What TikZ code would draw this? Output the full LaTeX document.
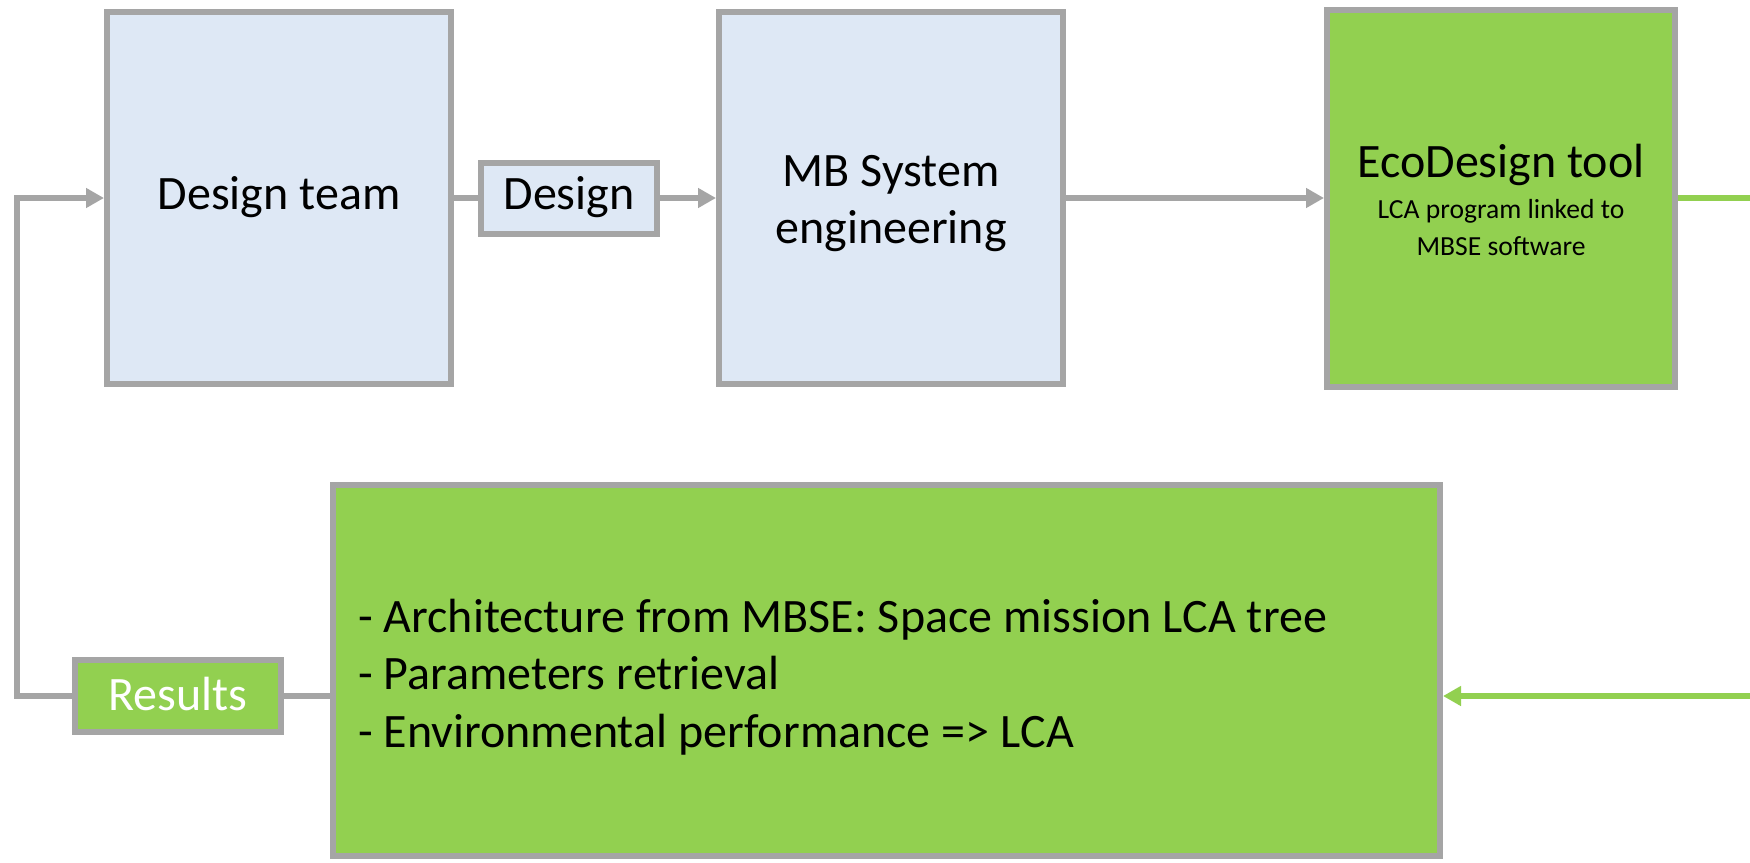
\documentclass[tikz,border=0pt]{standalone}
\usepackage{fontspec}
\setmainfont{Carlito}
\usetikzlibrary{arrows.meta}
\definecolor{boxgray}{HTML}{A5A5A5}
\definecolor{lblue}{HTML}{DEE8F5}
\definecolor{lgreen}{HTML}{92D050}
\newcommand{\smalltxt}[1]{{\fontsize{13.8}{18.5}\selectfont #1}}
\newcommand{\bstrut}{\rule[-5pt]{0pt}{21pt}}
\newcommand{\fitline}[2]{\makebox[#1][s]{\spaceskip=5pt plus 10pt minus 5pt\relax #2}}
\begin{document}
\begin{tikzpicture}[x=0.5pt,y=-0.5pt,
  box/.style={draw=boxgray, line width=3pt, inner sep=0pt, align=center,
    font=\fontsize{24}{28.5}\selectfont},
  bluebox/.style={box, fill=lblue, minimum width=172pt, minimum height=186pt},
  greenbox/.style={box, fill=lgreen},
  conn/.style={draw=boxgray, line width=3pt},
  arr/.style={conn, -{Triangle[length=9pt,width=9.5pt]}},
  garr/.style={draw=lgreen, line width=3pt, -{Triangle[length=9pt,width=9.5pt]}},
  gline/.style={draw=lgreen, line width=3pt}]
\useasboundingbox (0,0) rectangle (1750,862);
\node[bluebox] (dt) at (279,198) {\bstrut Design team};
\node[box, fill=lblue, minimum width=88pt, minimum height=35.5pt] (des) at (569,198) {\bstrut Design};
\node[bluebox] (mb) at (891,198) {\rule{0pt}{22pt}MB System\\engineering\rule[-5pt]{0pt}{0pt}};
\node[greenbox, minimum width=174pt, minimum height=188.5pt] (eco) at (1501,198)
  {\rule{0pt}{19.5pt}EcoDesign tool\\[-8pt]\smalltxt{LCA program linked to}\\[-10pt]\smalltxt{MBSE software\rule[-1pt]{0pt}{0pt}}};
\node[greenbox, minimum width=553.5pt, minimum height=185.5pt, text width=528.5pt,
  inner xsep=12.5pt, align=left, font=\fontsize{24}{28.75}\selectfont] (res) at (886.5,670.5)
  {\rule{0pt}{25pt}\fitline{484.5pt}{- Architecture from MBSE: Space mission LCA tree}\\
   \fitline{210.5pt}{- Parameters retrieval}\\
   \fitline{358pt}{- Environmental performance => LCA}\rule[-6pt]{0pt}{0pt}};
\node[greenbox, minimum width=103pt, minimum height=36pt, text=white] (rl) at (178,696) {\rule[-5pt]{0pt}{24pt}Results};
\coordinate (ecoout) at (1750,198);
\coordinate (resin) at (1750,696);
\coordinate (fb) at (17,696);
\draw[conn] (dt.east) -- (des.west);
\draw[arr] (des.east) -- (mb.west);
\draw[arr] (mb.east) -- (eco.west);
\draw[gline] (eco.east) -- (ecoout);
\draw[garr] (resin) -- (resin -| res.east);
\draw[conn] (rl.east) -- (rl.east -| res.west);
\draw[arr] (rl.west) -- (fb) |- (dt.west);
\end{tikzpicture}
\end{document}
